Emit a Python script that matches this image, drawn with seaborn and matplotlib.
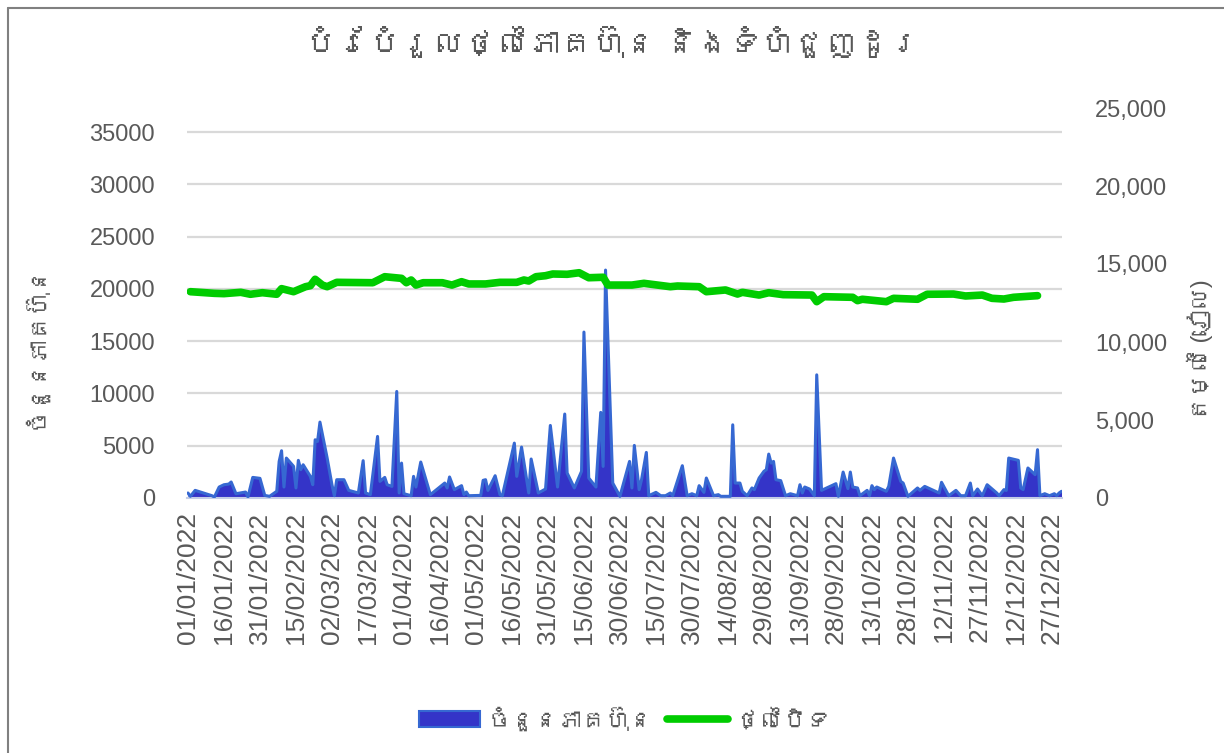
import numpy as np
import pandas as pd
import matplotlib
matplotlib.use("Agg")
import matplotlib.pyplot as plt
import seaborn as sns
from matplotlib import font_manager
from matplotlib.ft2font import FT2Font
from matplotlib.patches import Patch
from matplotlib.lines import Line2D
from matplotlib.ticker import FuncFormatter

# ---- data ----
title = "បំរែបំរួលថ្លៃភាគហ៊ុន និងទំហំជួញដូរ"
left_label = "ចំនួនភាគហ៊ុន"
right_label = "តម្លៃ (រៀល)"
volume_name = "ចំនួនភាគហ៊ុន"
price_name = "ថ្លៃបិទ"

start_date = "2022-01-01"

tick_labels = ["01/01/2022", "16/01/2022", "31/01/2022", "15/02/2022", "02/03/2022",
               "17/03/2022", "01/04/2022", "16/04/2022", "01/05/2022", "16/05/2022",
               "31/05/2022", "15/06/2022", "30/06/2022", "15/07/2022", "30/07/2022",
               "14/08/2022", "29/08/2022", "13/09/2022", "28/09/2022", "13/10/2022",
               "28/10/2022", "12/11/2022", "27/11/2022", "12/12/2022", "27/12/2022"]

left_ticks = [0, 5000, 10000, 15000, 20000, 25000, 30000, 35000]
right_ticks = [0, 5000, 10000, 15000, 20000, 25000]

# days since 01/01/2022 and traded volume
volume_days = [0, 1, 3, 10, 11, 13, 15, 17, 18, 20, 24, 25, 27, 30, 32, 34, 37, 38, 39, 40,
               41, 44, 45, 46, 47, 48, 51, 52, 53, 54, 55, 58, 60, 61, 62, 65, 67, 71, 73, 74,
               76, 79, 80, 82, 83, 85, 87, 88, 89, 90, 93, 94, 95, 97, 101, 107, 108, 109, 111, 114,
               115, 116, 117, 122, 123, 124, 125, 128, 130, 131, 136, 137, 139, 142, 143, 146, 149, 151, 154, 157,
               158, 161, 164, 165, 167, 170, 172, 173, 174, 177, 180, 184, 185, 186, 188, 189, 191, 192, 195, 197,
               199, 201, 202, 206, 208, 210, 212, 213, 215, 216, 219, 221, 222, 226, 227, 228, 230, 231, 233, 235,
               236, 238, 240, 241, 242, 243, 244, 245, 247, 249, 251, 254, 255, 256, 257, 259, 261, 262, 264, 270,
               271, 273, 275, 276, 277, 279, 280, 283, 284, 285, 286, 287, 291, 292, 294, 297, 298, 300, 304, 305,
               307, 313, 314, 317, 320, 322, 324, 326, 327, 329, 331, 333, 337, 338, 340, 341, 342, 346, 347, 348,
               350, 353, 354, 355, 357, 359, 361, 362, 363, 364]
volume = [480, 160, 730, 220, 95, 1050, 1270, 1330, 1530, 410, 570, 100, 1970, 1880, 250, 160, 640, 3500, 4520, 1050,
          3820, 3030, 960, 3600, 2710, 3180, 2070, 1270, 5570, 5410, 7260, 3820, 1270, 220, 1750, 1750, 730, 480, 3570, 480,
          320, 5890, 1590, 1970, 1270, 1110, 10190, 480, 3340, 410, 220, 2070, 1050, 3440, 320, 1430, 960, 2010, 800, 1180,
          320, 570, 220, 250, 1690, 1750, 730, 2130, 320, 220, 5250, 2070, 4870, 480, 3730, 480, 860, 6940, 1050, 8030,
          2390, 960, 2550, 15870, 1910, 1050, 8190, 3020, 21800, 1430, 160, 3500, 960, 5030, 800, 1750, 4360, 220, 540, 220,
          220, 480, 220, 3090, 220, 410, 220, 1180, 540, 1910, 220, 320, 160, 160, 7000, 1430, 1430, 640, 220, 960,
          800, 1910, 2550, 2710, 4200, 3340, 3500, 1750, 1660, 220, 410, 220, 1270, 480, 1050, 860, 220, 11780, 730, 1370,
          160, 2480, 900, 2480, 1050, 960, 220, 730, 220, 1180, 800, 1050, 640, 1110, 3820, 1590, 1430, 160, 960, 730,
          1110, 480, 1500, 220, 730, 220, 220, 1430, 220, 860, 220, 1270, 480, 220, 800, 730, 3820, 3600, 960, 800,
          2870, 2230, 4620, 220, 410, 220, 410, 220, 480, 640]

# days since 01/01/2022 and closing price (riel)
price_days = [1, 11, 15, 22, 26, 31, 37, 39, 44, 49, 51, 53, 56, 58, 62, 77, 82, 89, 91, 93,
              95, 98, 106, 110, 114, 117, 124, 130, 137, 140, 142, 145, 149, 152, 158, 163, 167, 173, 175, 185,
              190, 201, 204, 213, 216, 224, 229, 231, 238, 242, 248, 260, 262, 265, 277, 279, 281, 291, 294, 304,
              308, 319, 324, 331, 335, 340, 344, 354]
price = [13225, 13120, 13100, 13185, 13060, 13160, 13060, 13420, 13225, 13545, 13610, 14020, 13650, 13545, 13825, 13800, 14185, 14080, 13800, 13975,
         13650, 13800, 13800, 13650, 13865, 13720, 13720, 13825, 13825, 13975, 13910, 14185, 14250, 14360, 14340, 14440, 14120, 14150, 13650, 13650,
         13760, 13545, 13590, 13545, 13225, 13335, 13075, 13185, 13010, 13160, 13035, 13010, 12585, 12905, 12865, 12650, 12740, 12585, 12800, 12740,
         13060, 13075, 12950, 13010, 12800, 12755, 12865, 12970]

# ---- style ----
FILL_BLUE = "#3434c8"
EDGE_BLUE = "#3668d2"
GREEN = "#00cc00"
TEXT_GREY = "#595959"
GRID_GREY = "#d9d9d9"


def find_khmer_font():
    for f in font_manager.fontManager.ttflist:
        try:
            if 0x1780 in FT2Font(f.fname).get_charmap():
                return f.name
        except Exception:
            pass
    return None


sns.set_theme(style="white")
families = ["Liberation Sans"]
khmer = find_khmer_font()
if khmer:
    families.append(khmer)
families.append("DejaVu Sans")
plt.rcParams["font.family"] = families

t0 = pd.Timestamp(start_date)
vol_df = pd.DataFrame({"date": t0 + pd.to_timedelta(volume_days, unit="D"), "volume": volume})
price_df = pd.DataFrame({"date": t0 + pd.to_timedelta(price_days, unit="D"), "price": price})
tick_dates = pd.to_datetime(tick_labels, format="%d/%m/%Y")

W, H = 1224, 753
fig = plt.figure(figsize=(W / 100, H / 100), dpi=100)
ax = fig.add_axes([187 / W, 1 - 498 / H, 875 / W, 390 / H])
ax2 = ax.twinx()

# volume as area
ax.fill_between(vol_df["date"], vol_df["volume"], 0, color=FILL_BLUE, linewidth=0, zorder=2)
sns.lineplot(data=vol_df, x="date", y="volume", ax=ax, color=EDGE_BLUE, linewidth=2.2, zorder=3)

# closing price on secondary axis
sns.lineplot(data=price_df, x="date", y="price", ax=ax2, color=GREEN, linewidth=5.5,
             solid_capstyle="round", solid_joinstyle="round")

ax.set_xlim(t0 - pd.Timedelta(days=0.4), t0 + pd.Timedelta(days=364.2))
ax.set_ylim(0, 37300)
ax2.set_ylim(0, 25000)

ax.set_yticks(left_ticks)
ax.set_yticklabels([str(v) for v in left_ticks])
ax2.set_yticks(right_ticks)
ax2.yaxis.set_major_formatter(FuncFormatter(lambda v, p: f"{int(v):,}"))
ax.set_xticks(tick_dates)
ax.set_xticklabels(tick_labels, rotation=90)

ax.grid(axis="y", color=GRID_GREY, linewidth=1.6)
ax.grid(axis="x", visible=False)
ax2.grid(False)
ax.set_axisbelow(True)

for a in (ax, ax2):
    for s in a.spines.values():
        s.set_visible(False)
ax.spines["bottom"].set_visible(True)
ax.spines["bottom"].set_color("#c4cde6")
ax.spines["bottom"].set_linewidth(1.5)

ax.tick_params(axis="y", length=0, pad=23, labelsize=17, labelcolor=TEXT_GREY)
ax.tick_params(axis="x", length=0, pad=10, labelsize=19, labelcolor=TEXT_GREY)
ax2.tick_params(axis="y", length=0, pad=24, labelsize=17, labelcolor=TEXT_GREY)

ax.set_xlabel("")
ax.set_ylabel(left_label, fontsize=17, color=TEXT_GREY)
ax.yaxis.set_label_coords(-0.158, 0.39)
ax2.set_ylabel(right_label, fontsize=17, color=TEXT_GREY, rotation=90)
ax2.yaxis.set_label_coords(1.143, 0.38)

fig.text(0.5, 1 - 45 / H, title, ha="center", va="center", fontsize=23, color=TEXT_GREY)

handles = [Patch(facecolor=FILL_BLUE, edgecolor=EDGE_BLUE, linewidth=1.5),
           Line2D([0], [0], color=GREEN, linewidth=5.5, solid_capstyle="round")]
fig.legend(handles, [volume_name, price_name], loc="center", bbox_to_anchor=(0.51, 1 - 720 / H),
           ncol=2, frameon=False, fontsize=17, handlelength=2.6, handletextpad=0.3,
           columnspacing=0.6, labelcolor=TEXT_GREY)

# chart border (left and top edges are visible)
fig.add_artist(Line2D([8 / W, 8 / W], [0, 1 - 8 / H], color="#808080", linewidth=1.5,
                      transform=fig.transFigure))
fig.add_artist(Line2D([8 / W, 1], [1 - 8 / H, 1 - 8 / H], color="#808080", linewidth=1.5,
                      transform=fig.transFigure))

fig.savefig("out.png", dpi=100)
plt.close(fig)
